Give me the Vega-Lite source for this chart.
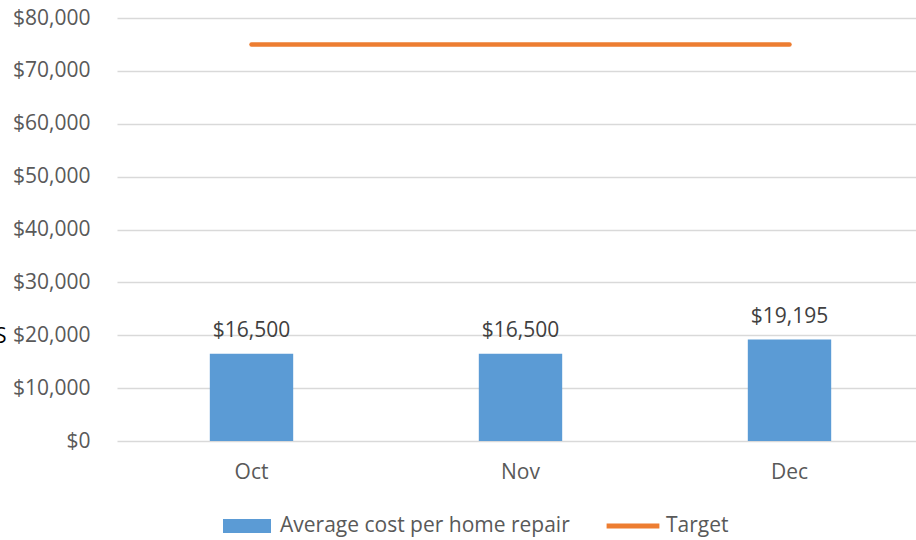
{
  "$schema": "https://vega.github.io/schema/vega-lite/v6.json",
  "autosize": {"type": "none"},
  "width": 799,
  "height": 423,
  "padding": {"left": 117, "top": 18, "right": 0, "bottom": 99},
  "background": "white",
  "config": {
    "view": {"stroke": null},
    "font": "Open Sans",
    "axis": {"labelFont": "Open Sans", "labelFontSize": 21, "labelColor": "#595959"}
  },
  "data": {
    "values": [
      {"month": "Oct", "cost": 16500, "target": 75000, "series": "Average cost per home repair"},
      {"month": "Nov", "cost": 16500, "target": 75000, "series": "Average cost per home repair"},
      {"month": "Dec", "cost": 19195, "target": 75000, "series": "Average cost per home repair"}
    ]
  },
  "encoding": {
    "x": {
      "field": "month",
      "type": "nominal",
      "sort": ["Oct", "Nov", "Dec"],
      "scale": {"range": [0, 807], "paddingInner": 0.69, "paddingOuter": 0.345},
      "axis": {"title": null, "labelAngle": 0, "domain": false, "ticks": false, "grid": false, "labelPadding": 20}
    }
  },
  "layer": [
    {
      "mark": {"type": "bar"},
      "encoding": {
        "y": {
          "field": "cost",
          "type": "quantitative",
          "scale": {"domain": [0, 80000], "nice": false},
          "axis": {
            "title": "S",
            "titleAngle": 0,
            "titleColor": "#000000",
            "titleFontSize": 21,
            "titleFontWeight": "normal",
            "titleAlign": "right",
            "titleBaseline": "middle",
            "titleX": -111,
            "titleY": 318,
            "values": [0, 10000, 20000, 30000, 40000, 50000, 60000, 70000, 80000],
            "labelExpr": "'$' + format(datum.value, ',')",
            "domain": false,
            "ticks": false,
            "gridColor": "#D9D9D9",
            "gridWidth": 1.3,
            "labelPadding": 27
          }
        },
        "color": {
          "field": "series",
          "type": "nominal",
          "scale": {"domain": ["Average cost per home repair", "Target"], "range": ["#5B9BD5", "#ED7D31"]},
          "legend": {
            "orient": "none",
            "legendX": 106,
            "legendY": 484,
            "direction": "horizontal",
            "title": null,
            "padding": 0,
            "symbolSize": 2304,
            "symbolOpacity": 1,
            "labelFontSize": 21,
            "labelFont": "Open Sans",
            "labelColor": "#595959",
            "labelLimit": 500,
            "labelOffset": 9,
            "columnPadding": 36,
            "encode": {
              "symbols": {
                "update": {
                  "shape": {"signal": "datum.value === 'Target' ? 'M-1.1,-0.1H1.1V0.1H-1.1Z' : 'M-1,-0.29H1V0.29H-1Z'"},
                  "strokeWidth": {"value": 0}
                }
              }
            }
          }
        }
      }
    },
    {
      "mark": {"type": "text", "baseline": "alphabetic", "dy": -17, "fontSize": 21, "color": "#404040", "font": "Open Sans"},
      "encoding": {
        "y": {"field": "cost", "type": "quantitative"},
        "text": {"field": "cost", "type": "quantitative", "format": "$,.0f"}
      }
    },
    {
      "mark": {"type": "line", "color": "#ED7D31", "strokeWidth": 4.5, "strokeCap": "round"},
      "encoding": {
        "y": {"field": "target", "type": "quantitative"}
      }
    }
  ]
}
